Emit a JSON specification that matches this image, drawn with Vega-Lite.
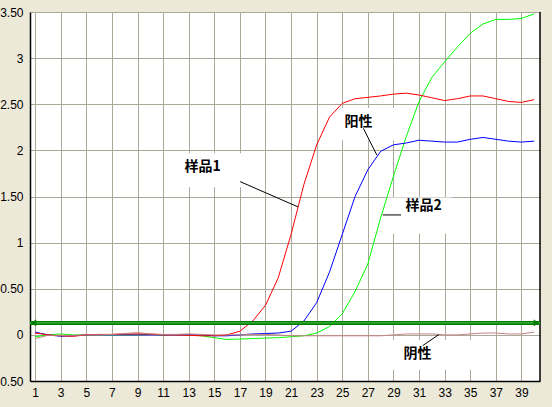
{
  "$schema": "https://vega.github.io/schema/vega-lite/v6.json",
  "width": 510,
  "height": 369,
  "autosize": {"type": "none"},
  "padding": {"left": 30, "top": 12, "right": 12, "bottom": 26},
  "background": "#ECE9D8",
  "config": {
    "view": {"fill": "white", "stroke": null},
    "axis": {
      "title": null,
      "labelFont": "Liberation Sans",
      "labelFontSize": 12,
      "labelColor": "black",
      "labelOverlap": false,
      "tickSize": 0,
      "domainColor": "black",
      "domainWidth": 1.5,
      "gridColor": "#ACA899",
      "gridWidth": 1,
      "gridOpacity": 1
    },
    "axisX": {"labelPadding": 6},
    "axisY": {"labelPadding": 7}
  },
  "datasets": {
    "curves": [
      {"x":1,"s":"样品2","y":-0.02},{"x":2,"s":"样品2","y":0.0},{"x":3,"s":"样品2","y":0.01},{"x":4,"s":"样品2","y":0.0},{"x":5,"s":"样品2","y":0.0},{"x":6,"s":"样品2","y":0.0},{"x":7,"s":"样品2","y":0.0},{"x":8,"s":"样品2","y":0.0},{"x":9,"s":"样品2","y":0.0},{"x":10,"s":"样品2","y":0.005},
      {"x":11,"s":"样品2","y":0.0},{"x":12,"s":"样品2","y":0.005},{"x":13,"s":"样品2","y":0.0},{"x":14,"s":"样品2","y":-0.01},{"x":15,"s":"样品2","y":-0.03},{"x":16,"s":"样品2","y":-0.05},{"x":17,"s":"样品2","y":-0.045},{"x":18,"s":"样品2","y":-0.04},{"x":19,"s":"样品2","y":-0.035},{"x":20,"s":"样品2","y":-0.03},
      {"x":21,"s":"样品2","y":-0.02},{"x":22,"s":"样品2","y":-0.01},{"x":23,"s":"样品2","y":0.02},{"x":24,"s":"样品2","y":0.09},{"x":25,"s":"样品2","y":0.23},{"x":26,"s":"样品2","y":0.47},{"x":27,"s":"样品2","y":0.77},{"x":28,"s":"样品2","y":1.27},{"x":29,"s":"样品2","y":1.72},{"x":30,"s":"样品2","y":2.15},
      {"x":31,"s":"样品2","y":2.53},{"x":32,"s":"样品2","y":2.79},{"x":33,"s":"样品2","y":2.96},{"x":34,"s":"样品2","y":3.12},{"x":35,"s":"样品2","y":3.27},{"x":36,"s":"样品2","y":3.37},{"x":37,"s":"样品2","y":3.42},{"x":38,"s":"样品2","y":3.42},{"x":39,"s":"样品2","y":3.43},{"x":40,"s":"样品2","y":3.48},

      {"x":1,"s":"阳性","y":0.03},{"x":2,"s":"阳性","y":0.0},{"x":3,"s":"阳性","y":-0.015},{"x":4,"s":"阳性","y":-0.01},{"x":5,"s":"阳性","y":0.0},{"x":6,"s":"阳性","y":0.0},{"x":7,"s":"阳性","y":0.0},{"x":8,"s":"阳性","y":0.0},{"x":9,"s":"阳性","y":0.0},{"x":10,"s":"阳性","y":0.0},
      {"x":11,"s":"阳性","y":0.0},{"x":12,"s":"阳性","y":0.0},{"x":13,"s":"阳性","y":0.0},{"x":14,"s":"阳性","y":0.0},{"x":15,"s":"阳性","y":-0.01},{"x":16,"s":"阳性","y":-0.01},{"x":17,"s":"阳性","y":0.0},{"x":18,"s":"阳性","y":0.01},{"x":19,"s":"阳性","y":0.015},{"x":20,"s":"阳性","y":0.02},
      {"x":21,"s":"阳性","y":0.04},{"x":22,"s":"阳性","y":0.15},{"x":23,"s":"阳性","y":0.35},{"x":24,"s":"阳性","y":0.68},{"x":25,"s":"阳性","y":1.09},{"x":26,"s":"阳性","y":1.5},{"x":27,"s":"阳性","y":1.79},{"x":28,"s":"阳性","y":1.99},{"x":29,"s":"阳性","y":2.06},{"x":30,"s":"阳性","y":2.08},
      {"x":31,"s":"阳性","y":2.11},{"x":32,"s":"阳性","y":2.1},{"x":33,"s":"阳性","y":2.09},{"x":34,"s":"阳性","y":2.09},{"x":35,"s":"阳性","y":2.12},{"x":36,"s":"阳性","y":2.14},{"x":37,"s":"阳性","y":2.12},{"x":38,"s":"阳性","y":2.1},{"x":39,"s":"阳性","y":2.09},{"x":40,"s":"阳性","y":2.1},

      {"x":1,"s":"样品1","y":0.02},{"x":2,"s":"样品1","y":0.0},{"x":3,"s":"样品1","y":-0.01},{"x":4,"s":"样品1","y":-0.015},{"x":5,"s":"样品1","y":0.0},{"x":6,"s":"样品1","y":0.005},{"x":7,"s":"样品1","y":0.005},{"x":8,"s":"样品1","y":0.01},{"x":9,"s":"样品1","y":0.01},{"x":10,"s":"样品1","y":0.01},
      {"x":11,"s":"样品1","y":0.0},{"x":12,"s":"样品1","y":0.0},{"x":13,"s":"样品1","y":-0.005},{"x":14,"s":"样品1","y":-0.01},{"x":15,"s":"样品1","y":-0.01},{"x":16,"s":"样品1","y":0.0},{"x":17,"s":"样品1","y":0.04},{"x":18,"s":"样品1","y":0.15},{"x":19,"s":"样品1","y":0.32},{"x":20,"s":"样品1","y":0.62},
      {"x":21,"s":"样品1","y":1.09},{"x":22,"s":"样品1","y":1.63},{"x":23,"s":"样品1","y":2.06},{"x":24,"s":"样品1","y":2.36},{"x":25,"s":"样品1","y":2.51},{"x":26,"s":"样品1","y":2.56},{"x":27,"s":"样品1","y":2.575},{"x":28,"s":"样品1","y":2.59},{"x":29,"s":"样品1","y":2.61},{"x":30,"s":"样品1","y":2.62},
      {"x":31,"s":"样品1","y":2.6},{"x":32,"s":"样品1","y":2.57},{"x":33,"s":"样品1","y":2.54},{"x":34,"s":"样品1","y":2.56},{"x":35,"s":"样品1","y":2.59},{"x":36,"s":"样品1","y":2.59},{"x":37,"s":"样品1","y":2.56},{"x":38,"s":"样品1","y":2.53},{"x":39,"s":"样品1","y":2.52},{"x":40,"s":"样品1","y":2.55},

      {"x":1,"s":"阴性","y":-0.04},{"x":2,"s":"阴性","y":-0.005},{"x":3,"s":"阴性","y":-0.005},{"x":4,"s":"阴性","y":-0.005},{"x":5,"s":"阴性","y":0.0},{"x":6,"s":"阴性","y":0.0},{"x":7,"s":"阴性","y":0.005},{"x":8,"s":"阴性","y":0.015},{"x":9,"s":"阴性","y":0.025},{"x":10,"s":"阴性","y":0.01},
      {"x":11,"s":"阴性","y":0.005},{"x":12,"s":"阴性","y":0.005},{"x":13,"s":"阴性","y":0.01},{"x":14,"s":"阴性","y":0.005},{"x":15,"s":"阴性","y":0.0},{"x":16,"s":"阴性","y":0.0},{"x":17,"s":"阴性","y":0.0},{"x":18,"s":"阴性","y":0.005},{"x":19,"s":"阴性","y":0.005},{"x":20,"s":"阴性","y":0.0},
      {"x":21,"s":"阴性","y":-0.01},{"x":22,"s":"阴性","y":-0.01},{"x":23,"s":"阴性","y":-0.01},{"x":24,"s":"阴性","y":-0.01},{"x":25,"s":"阴性","y":-0.01},{"x":26,"s":"阴性","y":-0.01},{"x":27,"s":"阴性","y":-0.01},{"x":28,"s":"阴性","y":-0.01},{"x":29,"s":"阴性","y":0.0},{"x":30,"s":"阴性","y":0.01},
      {"x":31,"s":"阴性","y":0.01},{"x":32,"s":"阴性","y":0.01},{"x":33,"s":"阴性","y":0.0},{"x":34,"s":"阴性","y":0.0},{"x":35,"s":"阴性","y":0.01},{"x":36,"s":"阴性","y":0.02},{"x":37,"s":"阴性","y":0.02},{"x":38,"s":"阴性","y":0.01},{"x":39,"s":"阴性","y":0.01},{"x":40,"s":"阴性","y":0.03}
    ],
    "threshold": [{"x": 0.6, "x2": 40.45, "y": 0.13}],
    "edge": [{"x": 40.45, "y": -0.5, "y2": 3.5}],
    "arrows": [{"x": 0.86, "y": 0.13, "d": "left"}, {"x": 40.18, "y": 0.13, "d": "right"}],
    "boxes": [
      {"x": 11.4, "x2": 17.2, "y": 1.97, "y2": 1.6},
      {"x": 24.67, "x2": 29.2, "y": 2.46, "y2": 2.11},
      {"x": 28.5, "x2": 33.6, "y": 1.49, "y2": 1.1},
      {"x": 28.6, "x2": 35.2, "y": -0.055, "y2": -0.38}
    ],
    "labels": [
      {"x": 14.09, "y": 1.815, "t": "样品1"},
      {"x": 26.27, "y": 2.313, "t": "阳性"},
      {"x": 31.35, "y": 1.392, "t": "样品2"},
      {"x": 30.88, "y": -0.206, "t": "阴性"}
    ],
    "connectors": [
      {"x": 17.02, "y": 1.661, "x2": 21.55, "y2": 1.387},
      {"x": 26.65, "y": 2.239, "x2": 27.7, "y2": 1.95},
      {"x": 28.16, "y": 1.3, "x2": 29.59, "y2": 1.3},
      {"x": 31.29, "y": -0.116, "x2": 32.54, "y2": 0.003}
    ]
  },
  "encoding": {
    "x": {"field": "x", "type": "quantitative", "scale": {"domain": [0.6, 40.45], "nice": false, "zero": false}, "axis": {"values": [1,3,5,7,9,11,13,15,17,19,21,23,25,27,29,31,33,35,37,39], "format": "d", "labelOverlap": false, "labelFlush": false, "labelBound": false, "title": null}},
    "y": {"field": "y", "type": "quantitative", "scale": {"domain": [-0.5, 3.5], "nice": false, "zero": false}, "axis": {"values": [-0.5,0,0.5,1,1.5,2,2.5,3,3.5], "labelOverlap": false, "labelFlush": false, "labelBound": false, "labelExpr": "abs(datum.value) % 1 === 0 ? format(abs(datum.value), 'd') : format(abs(datum.value), '.2f')", "title": null}}
  },
  "layer": [
    {
      "data": {"name": "boxes"},
      "mark": {"type": "rect", "fill": "white", "stroke": null},
      "encoding": {"x2": {"field": "x2"}, "y2": {"field": "y2"}}
    },
    {
      "data": {"name": "curves"},
      "mark": {"type": "line", "strokeWidth": 1, "interpolate": "linear"},
      "encoding": {
        "color": {"field": "s", "type": "nominal", "scale": {"domain": ["样品2", "阳性", "样品1", "阴性"], "range": ["#00FF00", "#0000FF", "#FF0000", "#C48484"]}, "legend": null}
      }
    },
    {
      "data": {"name": "edge"},
      "mark": {"type": "rule", "stroke": "black", "strokeWidth": 1.5},
      "encoding": {"y2": {"field": "y2"}}
    },
    {
      "data": {"name": "threshold"},
      "mark": {"type": "rule", "stroke": "#007A00", "strokeWidth": 4},
      "encoding": {"x2": {"field": "x2"}}
    },
    {
      "data": {"name": "threshold"},
      "mark": {"type": "rule", "stroke": "#3DB83D", "strokeWidth": 1.2},
      "encoding": {"x2": {"field": "x2"}}
    },
    {
      "data": {"name": "arrows"},
      "mark": {"type": "point", "filled": true, "color": "#007A00", "size": 45, "opacity": 1},
      "encoding": {
        "shape": {"field": "d", "type": "nominal", "scale": {"domain": ["left", "right"], "range": ["triangle-left", "triangle-right"]}, "legend": null}
      }
    },
    {
      "data": {"name": "connectors"},
      "mark": {"type": "rule", "stroke": "black", "strokeWidth": 1},
      "encoding": {"x2": {"field": "x2"}, "y2": {"field": "y2"}}
    },
    {
      "data": {"name": "labels"},
      "mark": {"type": "text", "font": "Noto Sans CJK SC", "fontWeight": "bold", "fontSize": 14, "color": "black", "align": "center", "baseline": "middle"},
      "encoding": {"text": {"field": "t"}}
    }
  ]
}
